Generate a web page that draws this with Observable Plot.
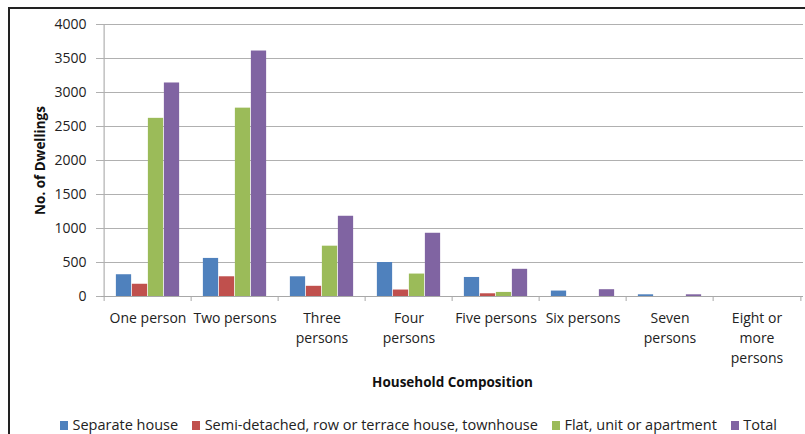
<!DOCTYPE html>
<html>
<head>
<meta charset="utf-8">
<script src="https://cdn.jsdelivr.net/npm/d3@7"></script>
<script src="https://cdn.jsdelivr.net/npm/@observablehq/plot@0.6"></script>
<style>
  html, body { margin: 0; padding: 0; background: #fff; }
  #wrap { position: relative; width: 805px; height: 434px; overflow: hidden; background: #fff; font-family: "Open Sans", Lato, sans-serif; }
  #border { position: absolute; left: 8px; top: 7px; width: 820px; height: 450px; border-left: 2px solid #222; border-top: 2px solid #222; box-sizing: border-box; pointer-events: none; }
  #chart { position: absolute; left: 0; top: 0; }
  #legend { position: absolute; left: 60px; top: 415px; display: flex; align-items: center; font-size: 14.5px; line-height: 20px; color: #222; white-space: nowrap; }
  .item { display: flex; align-items: center; margin-right: 14px; }
  .sw { width: 8px; height: 9px; margin-right: 4.5px; }
</style>
</head>
<body>
<div id="wrap">
  <div id="chart"></div>
  <div id="border"></div>
  <div id="legend"></div>
</div>
<script>
// ---- Data ----
const categories = ["One person", "Two persons", "Three persons", "Four persons", "Five persons", "Six persons", "Seven persons", "Eight or more persons"];
const categoryLabels = ["One person", "Two persons", "Three\npersons", "Four\npersons", "Five persons", "Six persons", "Seven\npersons", "Eight or\nmore\npersons"];
const seriesNames = ["Separate house", "Semi-detached, row or terrace house, townhouse", "Flat, unit or apartment", "Total"];
const separateHouse = [320, 560, 290, 500, 280, 80, 25, 0];
const semiDetached = [180, 290, 150, 95, 40, 0, 0, 0];
const flatUnit = [2620, 2770, 740, 330, 60, 0, 0, 0];
const total = [3140, 3610, 1180, 930, 400, 100, 25, 0];
const yTicks = [0, 500, 1000, 1500, 2000, 2500, 3000, 3500, 4000];
const colors = ["#4F81BD", "#C0504D", "#9BBB59", "#8064A2"];

const seriesValues = [separateHouse, semiDetached, flatUnit, total];

// ---- Layout ----
const W = 805, H = 412;
const mL = 101, mR = 2, mT = 24, mB = 116;
const step = (W - mL - mR) / categories.length;
const barW = 16;
const pad = (step - barW * seriesValues.length) / 2;
const font = "'Open Sans', Lato, sans-serif";

const barMarks = seriesValues.map((vals, i) => {
  const rows = categories.map((c, j) => ({category: c, value: vals[j]}));
  return Plot.barY(rows, {
    x: "category",
    y: "value",
    fill: colors[i],
    insetLeft: pad + i * barW,
    insetRight: step - pad - (i + 1) * barW
  });
});

const labelMap = new Map(categories.map((c, i) => [c, categoryLabels[i]]));

const chart = Plot.plot({
  width: W,
  height: H,
  marginLeft: mL,
  marginRight: mR,
  marginTop: mT,
  marginBottom: mB,
  style: {fontFamily: font, fontSize: "14px", color: "#222", background: "transparent"},
  x: {domain: categories, padding: 0},
  y: {domain: [0, 4000], ticks: yTicks},
  marks: [
    Plot.gridY(yTicks, {stroke: "#b0b0b0", strokeOpacity: 1, strokeWidth: 1.2}),
    Plot.ruleX([categories[0]], {x: d => d, dx: -step / 2, y1: 0, y2: 4000, stroke: "#b0b0b0", strokeWidth: 1.2}),
    ...barMarks,
    Plot.ruleY([0], {stroke: "#a8a8a8", strokeWidth: 1.2}),
    Plot.axisY(yTicks, {tickSize: 5, tickPadding: 10, tickFormat: d => String(d), stroke: "#b0b0b0", fontSize: 14, fill: "#222", label: null}),
    Plot.axisX(categories, {tickSize: 5, dx: -step / 2, stroke: "#a8a8a8", text: null, label: null}),
    Plot.axisX([categories[categories.length - 1]], {tickSize: 5, dx: step / 2, stroke: "#a8a8a8", text: null, label: null}),
    Plot.axisX(categories, {tickSize: 0, tickPadding: 12, tickFormat: d => labelMap.get(d), lineHeight: 1.43, fontSize: 14, fill: "#222", label: null}),
    Plot.text(["No. of Dwellings"], {frameAnchor: "left", textAnchor: "middle", rotate: -90, dx: -61, fontWeight: "bold", fontSize: 13.5, fill: "#111"}),
    Plot.text(["Household Composition"], {frameAnchor: "bottom", dy: 90, fontWeight: "bold", fontSize: 13.5, fill: "#111"})
  ]
});
document.getElementById("chart").appendChild(chart);

// ---- Legend ----
const legend = document.getElementById("legend");
seriesNames.forEach((name, i) => {
  const item = document.createElement("div");
  item.className = "item";
  const sw = document.createElement("span");
  sw.className = "sw";
  sw.style.background = colors[i];
  const t = document.createElement("span");
  t.textContent = name;
  item.appendChild(sw);
  item.appendChild(t);
  legend.appendChild(item);
});
</script>
</body>
</html>
